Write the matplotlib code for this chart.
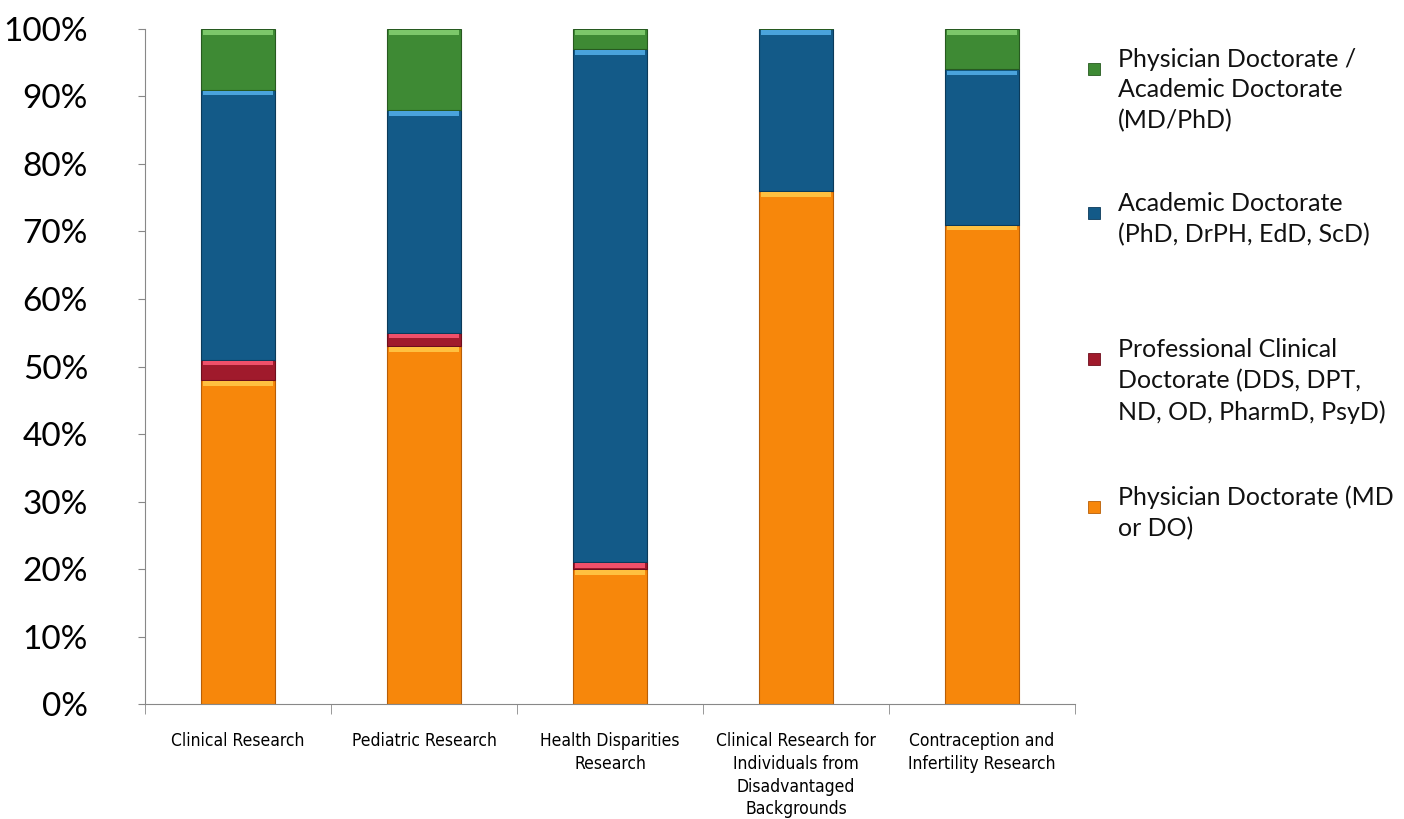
import matplotlib
matplotlib.use("Agg")
import matplotlib.pyplot as plt
import matplotlib.patches as mpatches
import numpy as np

categories = ["Clinical Research", "Pediatric Research", "Health Disparities\nResearch",
              "Clinical Research for\nIndividuals from\nDisadvantaged\nBackgrounds",
              "Contraception and\nInfertility Research"]
md_do = [48, 53, 20, 76, 71]
prof_clin = [3, 2, 1, 0, 0]
academic = [40, 33, 76, 24, 23]
md_phd = [9, 12, 3, 0, 6]

series_names = ["Physician Doctorate (MD\nor DO)",
                "Professional Clinical\nDoctorate (DDS, DPT,\nND, OD, PharmD, PsyD)",
                "Academic Doctorate\n(PhD, DrPH, EdD, ScD)",
                "Physician Doctorate /\nAcademic Doctorate\n(MD/PhD)"]
series_vals = [md_do, prof_clin, academic, md_phd]
colors = ["#F7870B", "#A01A2C", "#135A88", "#3E8A34"]
highlights = ["#FFC040", "#F0506A", "#4AA3DC", "#7CC76A"]
edges = ["#B85E06", "#6E0E1C", "#0B3A5A", "#275A20"]

fig = plt.figure(figsize=(14.04, 8.19), dpi=100)
ax = fig.add_axes([0.1033, 0.1404, 0.6624, 0.8242])

x = np.arange(len(categories))
width = 0.4
bottom = np.zeros(len(categories))
for vals, c, h, e in zip(series_vals, colors, highlights, edges):
    vals = np.array(vals, dtype=float)
    ax.bar(x, vals, width, bottom=bottom, color=c, edgecolor=e, linewidth=0.8, zorder=2)
    # bevel highlight at the top of each segment
    hl = np.minimum(vals, 0.7)
    mask = vals > 0
    ax.bar(x[mask], hl[mask], width * 0.94, bottom=(bottom + vals - hl - 0.15)[mask],
           color=h, linewidth=0, zorder=3)
    bottom += vals

ax.set_xlim(-0.5, len(categories) - 0.5)
ax.set_ylim(0, 100)
ax.set_yticks(np.arange(0, 101, 10))
ax.set_yticklabels([f"{v}%" for v in range(0, 101, 10)], fontsize=24, family="Lato")
ax.set_xticks(x)
ax.set_xticklabels(categories, fontsize=12.5, family="DejaVu Sans", fontstretch="condensed",
                   linespacing=1.35, va="top")
ax.tick_params(axis="x", length=0, pad=20)
ax.tick_params(axis="y", length=5, color="#888888", pad=36)
# category boundary ticks
ax.set_xticks(np.arange(-0.5, len(categories), 1.0), minor=True)
ax.tick_params(axis="x", which="minor", length=7, color="#888888", direction="out")
for s in ["top", "right"]:
    ax.spines[s].set_visible(False)
for s in ["left", "bottom"]:
    ax.spines[s].set_color("#888888")

# legend (manual, top to bottom: MD/PhD, Academic, Professional, MD/DO)
leg_y = [0.918, 0.741, 0.563, 0.383]
order = [3, 2, 1, 0]
for yy, i in zip(leg_y, order):
    fig.patches.append(mpatches.Rectangle((1088 / 1404, yy - 0.009), 12 / 1404, 12 / 819,
                                          transform=fig.transFigure, facecolor=colors[i],
                                          edgecolor=edges[i], linewidth=0.6))
    fig.text(1118 / 1404, yy + 0.024, series_names[i], fontsize=18, family="Lato",
             va="top", ha="left", linespacing=1.4, color="#111111")

fig.savefig("out.png", dpi=100)
